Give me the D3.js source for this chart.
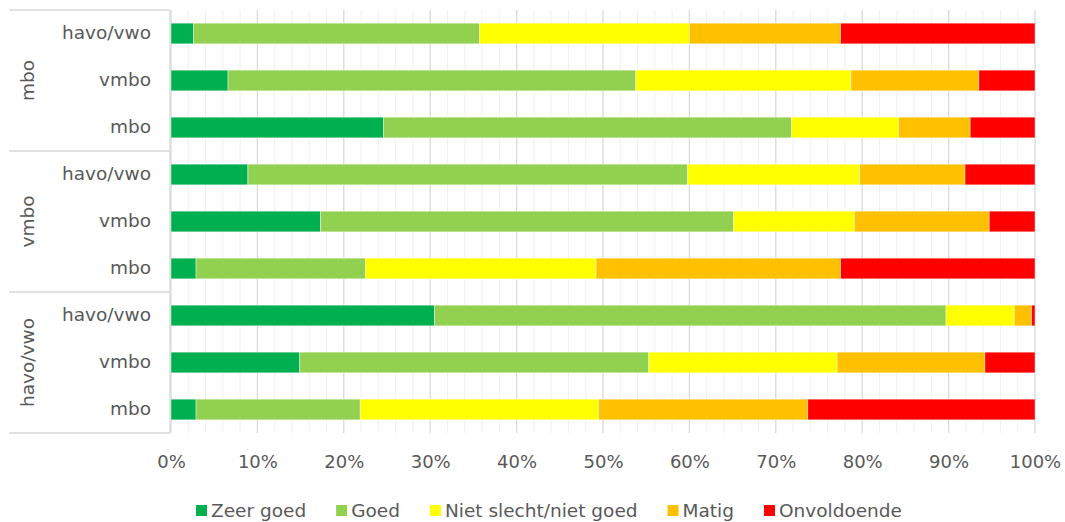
<!DOCTYPE html>
<html>
<head>
<meta charset="utf-8">
<script src="https://cdn.jsdelivr.net/npm/d3@7"></script>
<style>
  html, body { margin: 0; padding: 0; background: #fff; }
  svg { display: block; font-family: "DejaVu Sans", Verdana, sans-serif; }
</style>
</head>
<body>
<svg id="chart" width="1065" height="522"></svg>
<script>
// Outer groups (top to bottom) and the levels inside each group
const groups = ["mbo", "vmbo", "havo/vwo"];
const levels = ["havo/vwo", "vmbo", "mbo"];

// Rating categories and their colours
const series = ["Zeer goed", "Goed", "Niet slecht/niet goed", "Matig", "Onvoldoende"];
const colors = ["#00B050", "#92D050", "#FFFF00", "#FFC000", "#FF0000"];

// Shares (%) per row, rows ordered top to bottom
const zeerGoed  = [2.6, 6.6, 24.6, 8.9, 17.3, 2.9, 30.5, 14.9, 2.9];
const goed      = [33.1, 47.2, 47.2, 50.9, 47.8, 19.6, 59.2, 40.4, 19.0];
const nietSlecht = [24.3, 24.9, 12.4, 19.9, 14.0, 26.7, 7.9, 21.8, 27.6];
const matig     = [17.5, 14.8, 8.3, 12.2, 15.6, 28.3, 2.0, 17.1, 24.2];
const onvoldoende = [22.5, 6.5, 7.5, 8.1, 5.3, 22.5, 0.4, 5.8, 26.3];

const xTicks = [0, 10, 20, 30, 40, 50, 60, 70, 80, 90, 100];

const seriesValues = [zeerGoed, goed, nietSlecht, matig, onvoldoende];

// Build one record per row
const rows = [];
groups.forEach((g, gi) => {
  levels.forEach((l, li) => {
    const idx = gi * levels.length + li;
    const rec = { key: g + "|" + l, group: g, level: l };
    series.forEach((s, si) => { rec[s] = seriesValues[si][idx]; });
    rows.push(rec);
  });
});

const svg = d3.select("#chart");
const margin = { left: 171, right: 30, top: 10, bottom: 89 };
const W = 1065, H = 522;
const plotRight = W - margin.right;
const plotBottom = H - margin.bottom;
const textColor = "#595959";
const axisColor = "#d9d9d9";

const x = d3.scaleLinear().domain([0, 100]).range([margin.left, plotRight]);
const y = d3.scaleBand().domain(rows.map(d => d.key))
  .range([margin.top, plotBottom]).paddingInner(0.56).paddingOuter(0.28);

// Minor gridlines every 2%
const minor = d3.range(0, 101, 2).filter(v => v % 10 !== 0);
svg.append("g").selectAll("line").data(minor).join("line")
  .attr("x1", d => x(d)).attr("x2", d => x(d))
  .attr("y1", margin.top).attr("y2", plotBottom)
  .attr("stroke", "#f0f0f0").attr("stroke-width", 1);

// Major gridlines every 10%
svg.append("g").selectAll("line").data(xTicks).join("line")
  .attr("x1", d => x(d)).attr("x2", d => x(d))
  .attr("y1", margin.top).attr("y2", plotBottom)
  .attr("stroke", "#d9d9d9").attr("stroke-width", 1.3);

// Stacked bars
const stack = d3.stack().keys(series);
const stacked = stack(rows);
svg.append("g").selectAll("g").data(stacked).join("g")
  .attr("fill", (d, i) => colors[i])
  .selectAll("rect").data(d => d).join("rect")
  .attr("x", d => x(d[0]))
  .attr("width", d => x(d[1]) - x(d[0]))
  .attr("y", d => y(d.data.key))
  .attr("height", y.bandwidth())
  .attr("stroke", "#ffffff").attr("stroke-opacity", 0.55).attr("stroke-width", 0.75);

// X axis tick labels
const xAxis = d3.axisBottom(x).tickValues(xTicks).tickFormat(d => d + "%").tickSize(0).tickPadding(0);
const xg = svg.append("g").attr("transform", `translate(0,${plotBottom + 22})`).call(xAxis);
xg.select(".domain").remove();
xg.selectAll("text").attr("fill", textColor).attr("font-size", 18)
  .attr("font-family", "DejaVu Sans, Verdana, sans-serif");

// Y axis: inner level labels
const yAxis = d3.axisLeft(y).tickFormat(k => k.split("|")[1]).tickSize(0).tickPadding(20);
const yg = svg.append("g").attr("transform", `translate(${margin.left},0)`).call(yAxis);
yg.select(".domain").remove();
yg.selectAll("text").attr("fill", textColor).attr("font-size", 18.5)
  .attr("font-family", "DejaVu Sans, Verdana, sans-serif");

// Vertical axis line
svg.append("line")
  .attr("x1", margin.left - 1).attr("x2", margin.left - 1)
  .attr("y1", margin.top).attr("y2", plotBottom)
  .attr("stroke", axisColor).attr("stroke-width", 1.3);

// Group separators and outer group labels
const groupStep = (plotBottom - margin.top) / groups.length;
const sepY = d3.range(groups.length + 1).map(i => margin.top + i * groupStep);
svg.append("g").selectAll("line").data(sepY).join("line")
  .attr("x1", 9).attr("x2", margin.left - 1)
  .attr("y1", d => d).attr("y2", d => d)
  .attr("stroke", axisColor).attr("stroke-width", 1.3);

svg.append("g").selectAll("text").data(groups).join("text")
  .attr("transform", (d, i) => `translate(34,${margin.top + (i + 0.5) * groupStep}) rotate(-90)`)
  .attr("text-anchor", "middle")
  .attr("fill", textColor).attr("font-size", 18.5)
  .text(d => d);

// Legend, centred below the axis
const legend = svg.append("g").attr("transform", `translate(0,${H - 11})`);
const items = legend.selectAll("g").data(series).join("g");
items.append("rect").attr("width", 11).attr("height", 11).attr("y", -6)
  .attr("fill", (d, i) => colors[i]);
items.append("text").attr("x", 15).attr("y", 0).attr("dy", "0.35em")
  .attr("fill", textColor).attr("font-size", 18.5).text(d => d);
let offset = 0;
const gap = 30;
const widths = [];
items.each(function () { widths.push(15 + this.querySelector("text").getComputedTextLength()); });
const total = d3.sum(widths) + gap * (widths.length - 1);
const start = 549 - total / 2;
items.attr("transform", (d, i) => {
  const tx = start + offset;
  offset += widths[i] + gap;
  return `translate(${tx},0)`;
});
</script>
</body>
</html>
